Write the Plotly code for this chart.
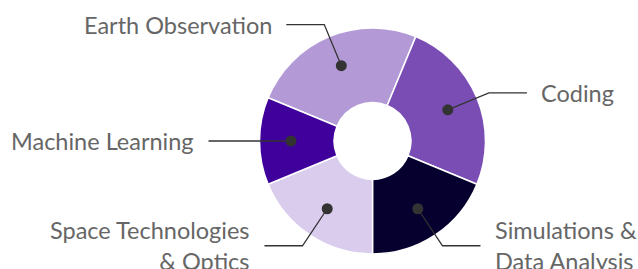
import math
import plotly.graph_objects as go

labels = ["Earth Observation", "Coding", "Simulations &<br>Data Analysis",
          "Space Technologies<br>& Optics", "Machine Learning"]
values = [4, 4, 3, 3, 2]
colors = ["#b39ad6", "#7a4db5", "#05002e", "#d9ccec", "#3f009c"]

W, H = 638, 269
cx, cy, R = 372.5, 141.0, 113.0
hole = 0.34
rotation = -67.5

fig = go.Figure()
fig.add_trace(go.Pie(
    labels=labels, values=values, sort=False, direction="clockwise",
    rotation=rotation, hole=hole, textinfo="none", hoverinfo="label",
    marker=dict(colors=colors, line=dict(color="white", width=1.5)),
    domain=dict(x=[(cx - R) / W, (cx + R) / W], y=[(H - cy - R) / H, (H - cy + R) / H]),
    showlegend=False,
))

total = sum(values)
cum = 0.0
r_dot, r_elbow, hlen, gap = 81.5, 126.0, 38.0, 12.5
shapes = []
for lab, v in zip(labels, values):
    mid = rotation + (cum + v / 2) / total * 360.0
    cum += v
    a = math.radians(mid)
    sx, sy = math.sin(a), -math.cos(a)
    dx, dy = cx + r_dot * sx, cy + r_dot * sy
    ex, ey = cx + r_elbow * sx, cy + r_elbow * sy
    side = 1 if sx > 0.01 else -1
    if abs(sx) > 0.99:
        ex = dx + side * (r_elbow - r_dot)
    hx = ex + side * hlen
    line = dict(color="#333333", width=1.3)
    shapes.append(dict(type="path", xref="x", yref="y", layer="above",
                       path=f"M {dx},{dy} L {ex},{ey} L {hx},{ey}", line=line))
    shapes.append(dict(type="circle", xref="x", yref="y", layer="above",
                       x0=dx - 5.5, x1=dx + 5.5, y0=dy - 5.5, y1=dy + 5.5,
                       fillcolor="#333333", line=dict(width=0)))
    fig.add_annotation(x=hx + side * gap, y=ey, text=lab, showarrow=False,
                       xanchor="left" if side > 0 else "right", yanchor="middle",
                       align="left" if side > 0 else "right",
                       font=dict(family="Lato", size=23.5, color="#666666"))

fig.update_layout(
    width=W, height=H, margin=dict(l=0, r=0, t=0, b=0),
    paper_bgcolor="white", plot_bgcolor="rgba(0,0,0,0)",
    xaxis=dict(range=[0, W], visible=False, fixedrange=True),
    yaxis=dict(range=[H, 0], visible=False, fixedrange=True),
    shapes=shapes,
)
fig.write_html("out.html", config={"displayModeBar": False},
               post_script="document.body.style.margin='0';")
